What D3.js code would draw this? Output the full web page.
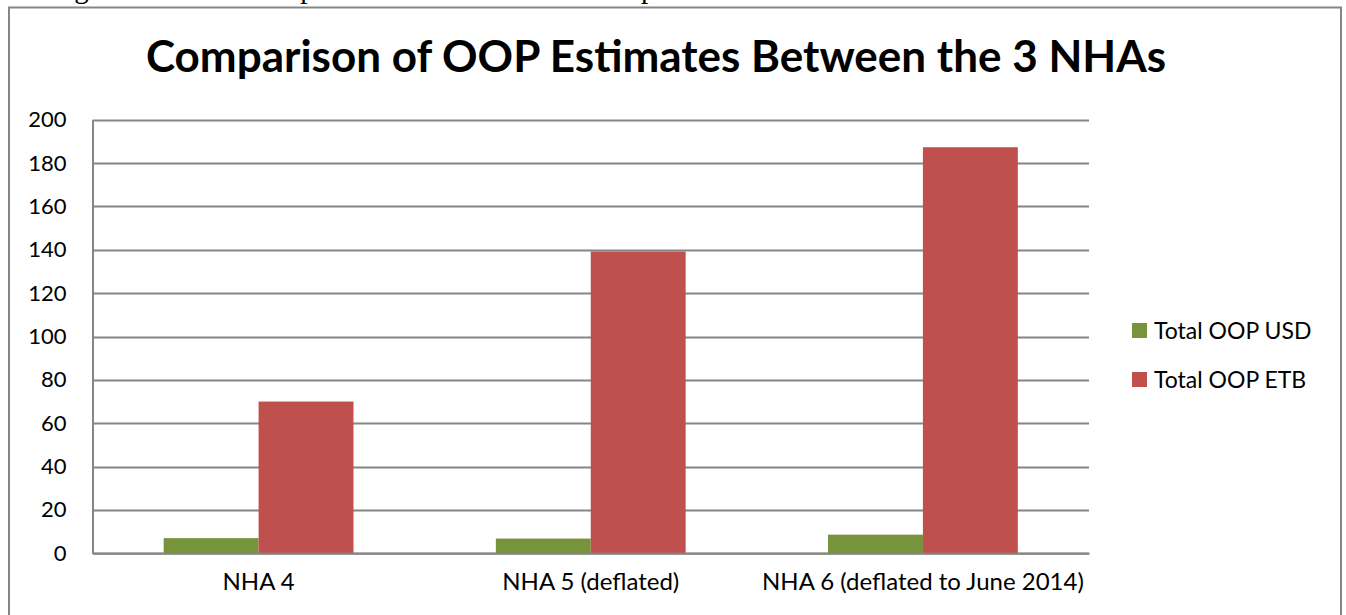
<!DOCTYPE html>
<html>
<head>
<meta charset="utf-8">
<script src="https://cdn.jsdelivr.net/npm/d3@7"></script>
<style>
  html, body { margin: 0; padding: 0; background: #fff; overflow: hidden; }
  svg { display: block; }
</style>
</head>
<body>
<svg id="chart" width="1346" height="615"></svg>
<script>
// Per capita out-of-pocket estimates across the three National Health Accounts
const categories = ["NHA 4", "NHA 5 (deflated)", "NHA 6 (deflated to June 2014)"];
const seriesNames = ["Total OOP USD", "Total OOP ETB"];
const oopUSD = [7, 6.8, 8.6];
const oopETB = [70, 139.2, 187.3];
const yTicks = [0, 20, 40, 60, 80, 100, 120, 140, 160, 180, 200];
const seriesColors = ["#77933C", "#C0504D"];

const svg = d3.select("#chart");
const font = "Lato, 'Open Sans', 'DejaVu Sans', sans-serif";

// caption line above the chart frame (runs off the top edge)
svg.append("text")
  .attr("x", 50).attr("y", -2)
  .attr("font-family", "'Liberation Serif', 'Times New Roman', serif")
  .attr("font-size", 29)
  .attr("fill", "#000")
  .text("Figure 4: Total Per capita Out-of-Pocket Health Expenditure Trend Based with the NHAs");

// chart frame
svg.append("rect")
  .attr("x", 9).attr("y", 7.5)
  .attr("width", 1332).attr("height", 640)
  .attr("fill", "#fff")
  .attr("stroke", "#868686").attr("stroke-width", 2);

// title
svg.append("text")
  .attr("x", 656).attr("y", 72)
  .attr("text-anchor", "middle")
  .attr("font-family", font)
  .attr("font-weight", "bold")
  .attr("font-size", 44)
  .attr("fill", "#000")
  .text("Comparison of OOP Estimates Between the 3 NHAs");

const plot = { left: 92.5, right: 1089, top: 119.7, bottom: 553.3 };

const x = d3.scaleBand()
  .domain(categories)
  .range([plot.left, plot.right])
  .paddingInner(0).paddingOuter(0);

const y = d3.scaleLinear()
  .domain([0, 200])
  .range([plot.bottom, plot.top]);

// Excel-style gap: gap width 150% of a single bar
const gapRatio = 1.5;
const barW = x.bandwidth() / (seriesNames.length + gapRatio);
const xs = d3.scaleBand()
  .domain(seriesNames)
  .range([0, barW * seriesNames.length]);
const groupOffset = (x.bandwidth() - barW * seriesNames.length) / 2;

// horizontal gridlines
svg.append("g")
  .selectAll("line")
  .data(yTicks)
  .join("line")
  .attr("x1", plot.left).attr("x2", plot.right)
  .attr("y1", d => Math.round(y(d)) + 0.5)
  .attr("y2", d => Math.round(y(d)) + 0.5)
  .attr("stroke", "#868686").attr("stroke-width", 2);

// y axis
const yAxis = svg.append("g")
  .attr("transform", `translate(${plot.left},0)`)
  .call(d3.axisLeft(y).tickValues(yTicks).tickSize(0).tickPadding(26));
yAxis.select(".domain").attr("stroke", "#868686").attr("stroke-width", 2);
yAxis.selectAll("text")
  .attr("font-family", font)
  .attr("font-size", 22)
  .attr("fill", "#000");

// bars
const series = [oopUSD, oopETB];
const groups = svg.append("g")
  .selectAll("g")
  .data(seriesNames)
  .join("g")
  .attr("fill", (d, i) => seriesColors[i]);

groups.selectAll("rect")
  .data((name, si) => categories.map((c, ci) => ({ c, name, v: series[si][ci] })))
  .join("rect")
  .attr("x", d => x(d.c) + groupOffset + xs(d.name))
  .attr("width", xs.bandwidth())
  .attr("y", d => y(d.v))
  .attr("height", d => y(0) - y(d.v));

// x axis
const xAxis = svg.append("g")
  .attr("transform", `translate(0,${plot.bottom})`)
  .call(d3.axisBottom(x).tickSize(0).tickPadding(20));
xAxis.select(".domain").attr("stroke", "#868686").attr("stroke-width", 2);
xAxis.selectAll("text")
  .attr("font-family", font)
  .attr("font-size", 24)
  .attr("fill", "#000");

// legend
const legend = svg.append("g")
  .selectAll("g")
  .data(seriesNames)
  .join("g")
  .attr("transform", (d, i) => `translate(1132,${331 + i * 49})`);
legend.append("rect")
  .attr("x", 0).attr("y", -8)
  .attr("width", 15).attr("height", 15)
  .attr("fill", (d, i) => seriesColors[i]);
legend.append("text")
  .attr("x", 22).attr("y", 0)
  .attr("dy", "0.35em")
  .attr("font-family", font)
  .attr("font-size", 23)
  .attr("fill", "#000")
  .text(d => d);
</script>
</body>
</html>
